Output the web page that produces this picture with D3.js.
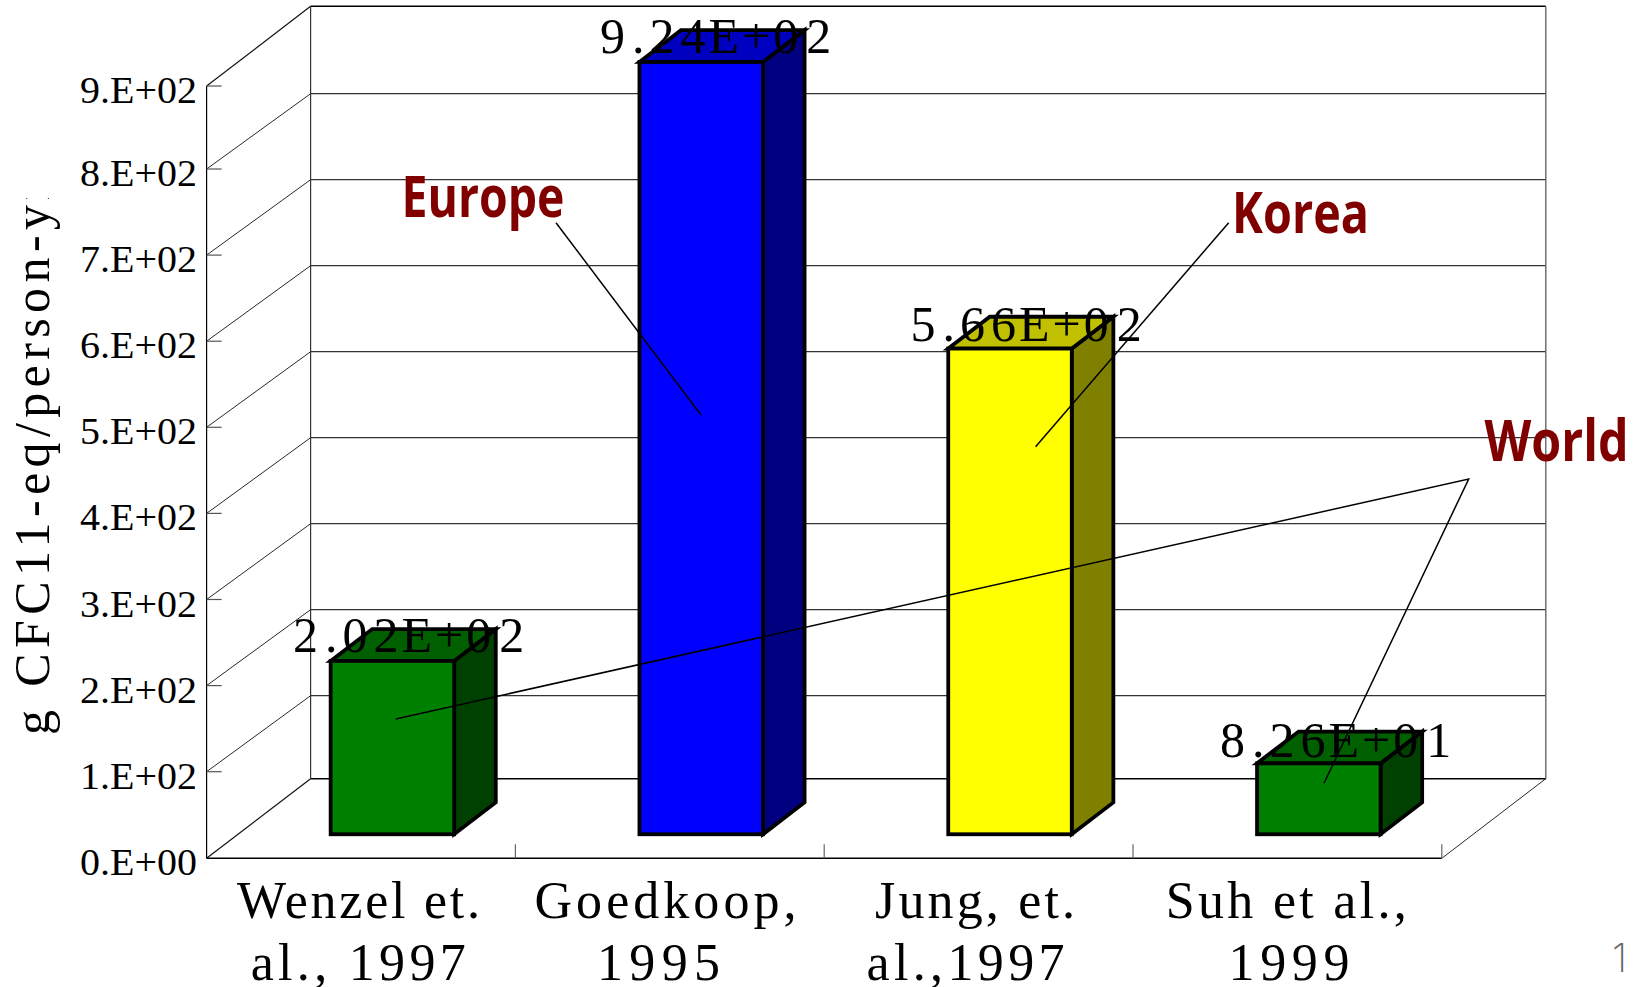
<!DOCTYPE html>
<html>
<head>
<meta charset="utf-8">
<script src="https://cdn.jsdelivr.net/npm/d3@7"></script>
<style>
  html, body { margin: 0; padding: 0; background: #fff; }
  svg { display: block; }
</style>
</head>
<body>
<svg id="chart" width="1637" height="987"></svg>
<script>
// Studies compared and their reported per-person emissions
const categories = ["Wenzel et. al., 1997", "Goedkoop, 1995", "Jung, et. al.,1997", "Suh et al., 1999"];
const values = [202, 924, 566, 82.6];
const valueLabels = ["2.02E+02", "9.24E+02", "5.66E+02", "8.26E+01"];
const tickValues = [0, 100, 200, 300, 400, 500, 600, 700, 800, 900];
const tickLabels = ["0.E+00", "1.E+02", "2.E+02", "3.E+02", "4.E+02", "5.E+02", "6.E+02", "7.E+02", "8.E+02", "9.E+02"];
const categoryLines = [["Wenzel et.", "al., 1997"], ["Goedkoop,", "1995"], ["Jung, et.", "al.,1997"], ["Suh et al.,", "1999"]];
const categoryLeft = [[237, 250.7], [534.5, 597], [875, 866.5], [1165.8, 1228.5]];
const categoryWidths = [[243, 215], [262, 123], [200, 198], [241, 121]];
const frontColors = ["#008000", "#0000ff", "#ffff00", "#008000"];
const topColors = ["#006000", "#0000c0", "#c0c000", "#006000"];
const sideColors = ["#004000", "#000080", "#808000", "#004000"];

// Plot geometry: the front plane of the box and the depth vector to the back wall
const plot = { left: 206.6, right: 1441.8, top: 86, bottom: 858.3, depthX: 104, depthY: -79.6 };
const barDepth = { start: 0.302, extent: 0.4 };

const svg = d3.select("#chart");
// Bars use a straight value scale that stops at the top of the axis
const y = d3.scaleLinear().domain([0, 900]).range([plot.bottom, plot.top]).clamp(true);
// The tick marks and wall lines have slightly uneven end intervals
const frontY = d3.scaleLinear().domain([0, 100, 800, 900]).range([858.3, 771.7, 169, 86]);
const backY = d3.scaleLinear().domain([0, 100, 800, 900]).range([778.7, 695.7, 93.7, 6.3]);
const x = d3.scaleBand().domain(categories).range([plot.left, plot.right]).paddingInner(0.6).paddingOuter(0.3);
const serif = "'Liberation Serif', 'Times New Roman', serif";

const line = (g, x1, y1, x2, y2, stroke, width) =>
  g.append("line").attr("x1", x1).attr("y1", y1).attr("x2", x2).attr("y2", y2)
    .attr("stroke", stroke).attr("stroke-width", width);

// Back wall, side wall and floor of the box
const walls = svg.append("g");
const dx = plot.depthX, dy = plot.depthY;
tickValues.forEach(v => {
  const thick = v === 0 || v === 900;
  line(walls, plot.left + dx, backY(v), plot.right + dx, backY(v), thick ? "#000" : "#333", thick ? 1.6 : 1.2);
  line(walls, plot.left, frontY(v), plot.left + dx, backY(v), "#111", thick ? 1.2 : 0.9);
});
line(walls, plot.left + dx, backY(900), plot.left + dx, backY(0), "#333", 1.2);
line(walls, plot.right + dx, backY(900), plot.right + dx, backY(0), "#666", 1.4);
line(walls, plot.right, frontY(0), plot.right + dx, backY(0), "#111", 0.9);

// Value axis
const yAxis = svg.append("g");
line(yAxis, plot.left, frontY(900), plot.left, frontY(0), "#000", 1.2);
tickValues.forEach((v, i) => {
  if (v > 0) line(yAxis, plot.left, frontY(v), plot.left + 15, frontY(v), "#555", 1.2);
  yAxis.append("text")
    .attr("x", 80).attr("y", frontY(v) + 17)
    .attr("textLength", 117).attr("lengthAdjust", "spacingAndGlyphs")
    .attr("font-family", serif).attr("font-size", 38).attr("fill", "#000")
    .text(tickLabels[i]);
});

// Category axis
const xAxis = svg.append("g");
line(xAxis, plot.left, frontY(0), plot.right, frontY(0), "#000", 1.4);
const step = x.step();
d3.range(1, categories.length + 1).forEach(k => {
  const xx = plot.left + step * k;
  line(xAxis, xx, frontY(0), xx, frontY(0) - 14, "#666", 1.2);
});
categoryLines.forEach((rows, i) => {
  rows.forEach((row, j) => {
    xAxis.append("text")
      .attr("x", categoryLeft[i][j]).attr("y", j === 0 ? 917.5 : 980)
      .attr("textLength", categoryWidths[i][j]).attr("lengthAdjust", "spacing")
      .attr("font-family", serif).attr("font-size", 52).attr("fill", "#000")
      .text(row);
  });
});

// Bars drawn as front, top and side faces, standing inside the box
const bars = svg.append("g").attr("stroke", "#000").attr("stroke-width", 3.8).attr("stroke-linejoin", "miter");
categories.forEach((c, i) => {
  const d0 = barDepth.start;
  const x0 = x(c) + dx * d0, x1 = x0 + x.bandwidth();
  const base = y(0) + dy * d0, top = y(values[i]) + dy * d0;
  const ox = dx * barDepth.extent, oy = dy * barDepth.extent;
  const poly = pts => pts.map(p => p.join(",")).join(" ");
  bars.append("polygon").attr("fill", sideColors[i])
    .attr("points", poly([[x1, top], [x1 + ox, top + oy], [x1 + ox, base + oy], [x1, base]]));
  bars.append("polygon").attr("fill", topColors[i])
    .attr("points", poly([[x0, top], [x0 + ox, top + oy], [x1 + ox, top + oy], [x1, top]]));
  bars.append("rect").attr("fill", frontColors[i])
    .attr("x", x0).attr("y", top).attr("width", x.bandwidth()).attr("height", base - top);
});

// Value labels sitting over the top of each bar, with uneven character gaps
const valueText = svg.append("g");
const labelLeft = [293, 600, 910.5, 1220];
const labelBaseline = [652, 53.3, 340.7, 756.7];
const labelGaps = "0 7 5 6 3 3 3 8";
valueLabels.forEach((t, i) => {
  valueText.append("text")
    .attr("x", labelLeft[i]).attr("y", labelBaseline[i])
    .attr("dx", labelGaps)
    .attr("font-family", serif).attr("font-size", 50).attr("fill", "#000")
    .text(t);
});

// Value axis title, cut off by its own frame at the top
const defs = svg.append("defs");
defs.append("clipPath").attr("id", "titleClip").append("rect")
  .attr("x", 0).attr("y", 198).attr("width", 90).attr("height", 560);
svg.append("g").attr("clip-path", "url(#titleClip)").append("text")
  .attr("transform", "translate(48.5,735) rotate(-90)")
  .attr("textLength", 552).attr("lengthAdjust", "spacing")
  .attr("font-family", serif).attr("font-size", 50).attr("fill", "#000")
  .text("g CFC11-eq/person-yr");

// Region callouts with their leader lines
const callouts = svg.append("g");
const regionNames = ["Europe", "Korea", "World"];
const regionLeft = [401.5, 1232, 1484.5];
const regionWidth = [163, 137, 144];
const regionBaseline = [217.3, 233.3, 460.7];
regionNames.forEach((t, i) => {
  callouts.append("text")
    .attr("x", regionLeft[i]).attr("y", regionBaseline[i])
    .attr("textLength", regionWidth[i]).attr("lengthAdjust", "spacingAndGlyphs")
    .attr("font-family", "'Open Sans', 'Noto Sans', sans-serif").attr("font-weight", 700)
    .attr("font-size", 57).attr("fill", "#800000")
    .text(t);
});
const leaders = [
  [[556, 222.7], [701, 415]],
  [[1228.7, 222.7], [1035.6, 446.8]],
  [[395.7, 719], [1468.7, 479], [1324, 783.3]]
];
leaders.forEach(pts => {
  callouts.append("path").attr("fill", "none").attr("stroke", "#000").attr("stroke-width", 1.5)
    .attr("d", d3.line()(pts));
});

// Slide number at the lower right
svg.append("text")
  .attr("x", 1612).attr("y", 972)
  .attr("font-family", "Inter, 'Liberation Sans', sans-serif").attr("font-weight", 200)
  .attr("font-size", 40).attr("fill", "#666")
  .text("1");
</script>
</body>
</html>
